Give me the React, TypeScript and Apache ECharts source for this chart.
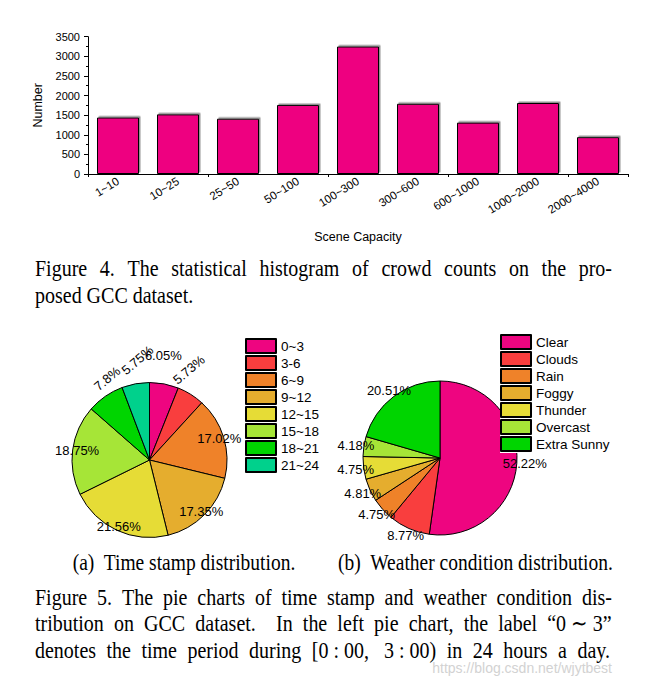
import React, { useEffect, useRef } from 'react';
import * as echarts from 'echarts';

// ---------- data ----------
const capacityCategories = ['1~10', '10~25', '25~50', '50~100', '100~300', '300~600', '600~1000', '1000~2000', '2000~4000'];
const capacityCounts = [1440, 1520, 1410, 1760, 3250, 1790, 1310, 1810, 940];
const countAxisMax = 3500;
const countAxisStep = 500;

const timeLabels = ['0~3', '3-6', '6~9', '9~12', '12~15', '15~18', '18~21', '21~24'];
const timeShares = [6.05, 5.73, 17.02, 17.35, 21.56, 18.75, 7.8, 5.75];
const timeOuterLabelIdx = [0, 1, 6, 7];

const weatherLabels = ['Clear', 'Clouds', 'Rain', 'Foggy', 'Thunder', 'Overcast', 'Extra Sunny'];
const weatherShares = [52.22, 8.77, 4.75, 4.81, 4.75, 4.18, 20.51];

const fig4Lines = [
  'Figure 4. The statistical histogram of crowd counts on the pro-',
  'posed GCC dataset.',
];
const subCaptionA = '(a)  Time stamp distribution.';
const subCaptionB = '(b)  Weather condition distribution.';
const fig5Lines = [
  'Figure 5. The pie charts of time stamp and weather condition dis-',
  'tribution on GCC dataset.  In the left pie chart, the label \u201c0\u00a0\u223c\u00a03\u201d',
  'denotes the time period during [0\u00a0:\u00a000,\u00a0\u00a0\u00a03\u00a0:\u00a000) in 24 hours a day.',
];
const watermark = 'https://blog.csdn.net/wjytbest';

// ---------- styles ----------
const palette = ['#EE0580', '#F93E3E', '#EF8229', '#E5AD2E', '#E6DC36', '#A6E537', '#00D500', '#00D18C'];
const SANS = '"Liberation Sans", Arial, sans-serif';
const SERIF = '"Liberation Serif", "Times New Roman", serif';
const STRETCH = 1.17;

function App() {
  const ref = useRef<HTMLDivElement>(null);

  useEffect(() => {
    if (!ref.current) return;
    const chart = echarts.init(ref.current, null, { renderer: 'svg' });

    const canvas = document.createElement('canvas');
    const ctx = canvas.getContext('2d')!;
    const measure = (t: string, size: number) => {
      ctx.font = `${size}px ${SERIF}`;
      return ctx.measureText(t).width;
    };
    const textEl = (text: string, x: number, y: number, size: number, align = 'left') => ({
      type: 'text',
      x,
      y,
      scaleY: STRETCH,
      silent: true,
      style: { text, fontFamily: SERIF, fontSize: size, fill: '#000', textAlign: align, verticalAlign: 'middle' },
    });
    const justified = (line: string, x: number, y: number, size: number, width: number) => {
      const words = line.split(' ');
      const widths = words.map((w) => measure(w, size));
      const total = widths.reduce((a, b) => a + b, 0);
      const gap = (width - total) / (words.length - 1);
      const out: any[] = [];
      let cx = x;
      words.forEach((w, i) => {
        if (w) out.push(textEl(w, cx, y, size));
        cx += widths[i] + gap;
      });
      return out;
    };

    const capX = 35;
    const capW = 577;
    const capSize = 20;
    const graphics: any[] = [
      ...justified(fig4Lines[0], capX, 268, capSize, capW),
      textEl(fig4Lines[1], capX, 295, capSize),
      textEl(subCaptionA, 184, 562, 19.5, 'center'),
      textEl(subCaptionB, 475.5, 562, 19.5, 'center'),
      ...justified(fig5Lines[0], capX, 597, capSize, capW),
      ...justified(fig5Lines[1], capX, 623.5, capSize, capW),
      ...justified(fig5Lines[2], capX, 650, capSize, 575),
      {
        type: 'text',
        x: 612,
        y: 668,
        silent: true,
        style: { text: watermark, fontFamily: SANS, fontSize: 14, fill: '#d2d2d2', textAlign: 'right', verticalAlign: 'middle' },
      },
    ];

    const pieItem = (name: string, value: number, i: number) => ({
      name,
      value,
      itemStyle: { color: palette[i] },
    });
    const labelStyle = { fontFamily: SANS, fontSize: 13, color: '#000' };
    const ghost = { color: 'rgba(0,0,0,0)', borderWidth: 0 };

    const smallNudge: Record<number, [number, number]> = { 0: [-4.5, -9], 1: [-4, -14], 6: [11, 7], 7: [7, 0] };

    const legendBase = {
      orient: 'vertical',
      icon: 'rect',
      itemWidth: 30,
      itemHeight: 14,
      itemGap: 1,
      selectedMode: false,
      textStyle: { fontFamily: SANS, fontSize: 13.5, color: '#000' },
    };

    const option: any = {
      animation: false,
      backgroundColor: '#fff',
      textStyle: { fontFamily: SANS },
      grid: { left: 88, top: 36.7, width: 540, height: 137.3, containLabel: false },
      xAxis: [
        {
          type: 'category',
          data: capacityCategories,
          position: 'bottom',
          name: 'Scene Capacity',
          nameLocation: 'middle',
          nameGap: 56,
          nameTextStyle: { fontFamily: SANS, fontSize: 12.5, color: '#000' },
          axisLine: { lineStyle: { color: '#000', width: 1 } },
          axisTick: { alignWithLabel: true, length: 4, lineStyle: { color: '#000' } },
          axisLabel: { rotate: 32, fontFamily: SANS, fontSize: 11.5, color: '#000', margin: 6, interval: 0 },
          splitLine: { show: false },
        },
        {
          type: 'category',
          data: capacityCategories,
          position: 'bottom',
          axisLine: { show: false },
          axisTick: { show: true, length: 3, lineStyle: { color: '#000' } },
          axisLabel: { show: false },
          splitLine: { show: false },
        },
      ],
      yAxis: {
        type: 'value',
        min: 0,
        max: countAxisMax,
        interval: countAxisStep,
        name: 'Number',
        nameLocation: 'middle',
        nameGap: 28,
        nameTextStyle: { fontFamily: SANS, fontSize: 12.5, color: '#000' },
        axisLine: { show: true, lineStyle: { color: '#000', width: 1 } },
        axisTick: { show: true, length: 4, lineStyle: { color: '#000' } },
        minorTick: { show: true, splitNumber: 2, length: 2, lineStyle: { color: '#000' } },
        axisLabel: { fontFamily: SANS, fontSize: 11, color: '#000', margin: 8, formatter: (v: number) => String(v) },
        splitLine: { show: false },
      },
      legend: [
        { ...legendBase, data: timeLabels, left: 245, top: 338, padding: 0 },
        {
          ...legendBase,
          data: weatherLabels,
          left: 500,
          top: 333,
          padding: [1, 3, 1, 0],
          backgroundColor: '#fff',
        },
      ],
      series: [
        {
          type: 'bar',
          xAxisIndex: 0,
          data: capacityCounts,
          barWidth: '70%',
          itemStyle: {
            color: palette[0],
            borderColor: '#000',
            borderWidth: 1,
            shadowColor: 'rgba(120,120,120,0.8)',
            shadowOffsetX: 1.5,
            shadowOffsetY: -1.5,
            shadowBlur: 0,
          },
        },
        {
          type: 'pie',
          id: 'timePie',
          center: [149.5, 460],
          radius: [0, 77.5],
          startAngle: 90,
          clockwise: true,
          avoidLabelOverlap: false,
          label: { show: false },
          labelLine: { show: false },
          itemStyle: { borderColor: '#000', borderWidth: 1 },
          data: timeLabels.map((n, i) => pieItem(n, timeShares[i], i)),
        },
        {
          type: 'pie',
          id: 'weatherPie',
          center: [440, 458],
          radius: [0, 77],
          startAngle: 90,
          clockwise: true,
          avoidLabelOverlap: false,
          label: { show: false },
          labelLine: { show: false },
          itemStyle: { borderColor: '#000', borderWidth: 1 },
          data: weatherLabels.map((n, i) => pieItem(n, weatherShares[i], i)),
        },
        // label carriers (invisible rings)
        {
          type: 'pie',
          id: 'timeInnerLabels',
          silent: true,
          legendHoverLink: false,
          center: [149.5, 460],
          radius: [69, 71],
          startAngle: 90,
          avoidLabelOverlap: false,
          itemStyle: ghost,
          labelLine: { show: false },
          label: { show: true, position: 'inside', formatter: '{c}%', ...labelStyle },
          data: timeLabels.map((n, i) => ({
            name: n,
            value: timeShares[i],
            label: { show: !timeOuterLabelIdx.includes(i) },
          })),
        },
        {
          type: 'pie',
          id: 'timeOuterLabels',
          silent: true,
          legendHoverLink: false,
          center: [149.5, 460],
          radius: [93, 95],
          startAngle: 90,
          avoidLabelOverlap: false,
          itemStyle: ghost,
          labelLine: { show: false },
          label: { show: true, position: 'inside', formatter: '{c}%', ...labelStyle },
          labelLayout: (p: any) => {
            const n = smallNudge[p.dataIndex];
            return n ? { dx: n[0], dy: n[1] } : {};
          },
          data: timeLabels.map((n, i) => ({
            name: n,
            value: timeShares[i],
            label: { show: timeOuterLabelIdx.includes(i), rotate: i === 0 ? 0 : 40 },
          })),
        },
        {
          type: 'pie',
          id: 'weatherLabels',
          silent: true,
          legendHoverLink: false,
          center: [440, 458],
          radius: [81, 83],
          startAngle: 90,
          avoidLabelOverlap: false,
          z: 5,
          itemStyle: ghost,
          labelLine: { show: false },
          label: { show: true, position: 'inside', formatter: '{c}%', ...labelStyle },
          data: weatherLabels.map((n, i) => ({ name: n, value: weatherShares[i] })),
        },
      ],
      graphic: graphics,
    };

    chart.setOption(option);
    return () => chart.dispose();
  }, []);

  return <div ref={ref} style={{ position: 'fixed', left: 0, top: 0, width: 647, height: 687 }} />;
}

export default App;
